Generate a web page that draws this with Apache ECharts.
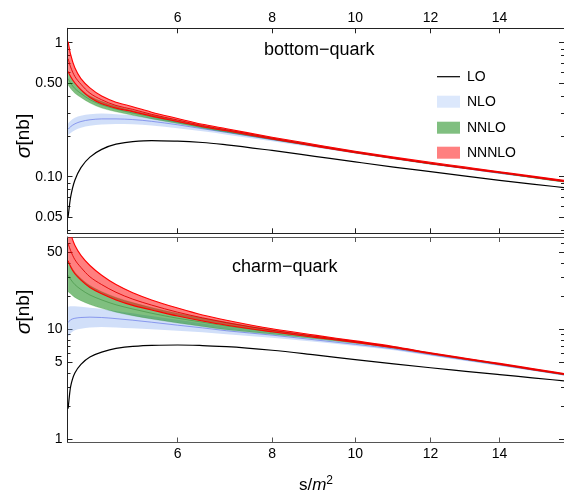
<!DOCTYPE html>
<html><head><meta charset="utf-8">
<script src="https://cdn.jsdelivr.net/npm/echarts@6/dist/echarts.min.js"></script>
<style>html,body{margin:0;padding:0;background:#fff}#c{width:564px;height:496px}</style>
</head><body><div id="c"></div>
<script>
// x grid (s/m^2)
const sValues = [4.04, 4.08, 4.15, 4.25, 4.4, 4.6, 4.85, 5.15, 5.5, 6, 6.5, 7, 8, 9, 10, 11, 12, 13, 14, 15, 16];
const xTicks = [6, 8, 10, 12, 14];
const topYMajor = [0.05, 0.1, 0.5, 1];
const topYMajorLabels = ['0.05', '0.10', '0.50', '1'];
const topYMinor = [0.04, 0.06, 0.07, 0.08, 0.09, 0.2, 0.3, 0.4, 0.6, 0.7, 0.8, 0.9];
const botYMajor = [1, 5, 10, 50];
const botYMajorLabels = ['1', '5', '10', '50'];
const botYMinor = [2, 3, 4, 6, 7, 8, 9, 20, 30, 40, 60];
const legendNames = ['LO', 'NLO', 'NNLO', 'NNNLO'];

// bottom-quark
const bLO      = [0.050, 0.070, 0.094, 0.117, 0.140, 0.160, 0.175, 0.183, 0.186, 0.184, 0.180, 0.173, 0.157, 0.142, 0.129, 0.118, 0.109, 0.101, 0.094, 0.088, 0.083];
const bNLOlo   = [0.205, 0.212, 0.222, 0.232, 0.240, 0.245, 0.247, 0.246, 0.241, 0.230, 0.218, 0.206, 0.184, 0.165, 0.149, 0.135, 0.123, 0.114, 0.105, 0.098, 0.091];
const bNLOhi   = [0.250, 0.262, 0.275, 0.285, 0.292, 0.296, 0.293, 0.287, 0.276, 0.257, 0.238, 0.222, 0.194, 0.172, 0.154, 0.139, 0.127, 0.117, 0.108, 0.100, 0.093];
const bNLOc    = [0.226, 0.236, 0.248, 0.258, 0.266, 0.270, 0.270, 0.267, 0.259, 0.244, 0.228, 0.214, 0.189, 0.169, 0.151, 0.137, 0.125, 0.115, 0.106, 0.099, 0.092];
const bNNLOlo  = [0.485, 0.455, 0.420, 0.390, 0.355, 0.325, 0.305, 0.287, 0.270, 0.249, 0.230, 0.215, 0.189, 0.168, 0.150, 0.136, 0.124, 0.115, 0.106, 0.098, 0.091];
const bNNLOhi  = [0.610, 0.560, 0.500, 0.450, 0.400, 0.365, 0.335, 0.312, 0.290, 0.263, 0.240, 0.224, 0.195, 0.173, 0.154, 0.139, 0.127, 0.117, 0.108, 0.100, 0.093];
const bNNLOc   = [0.540, 0.500, 0.455, 0.418, 0.376, 0.344, 0.320, 0.299, 0.280, 0.256, 0.235, 0.219, 0.192, 0.170, 0.152, 0.137, 0.125, 0.116, 0.107, 0.099, 0.092];
const bN3LOlo  = [0.610, 0.560, 0.500, 0.445, 0.390, 0.350, 0.325, 0.306, 0.283, 0.258, 0.236, 0.220, 0.191, 0.169, 0.151, 0.137, 0.125, 0.115, 0.107, 0.099, 0.092];
const bN3LOhi  = [1.020, 0.820, 0.650, 0.540, 0.460, 0.400, 0.360, 0.333, 0.303, 0.272, 0.246, 0.228, 0.197, 0.174, 0.155, 0.140, 0.128, 0.118, 0.109, 0.101, 0.094];
const bN3LOc   = [0.760, 0.660, 0.560, 0.490, 0.420, 0.375, 0.340, 0.318, 0.292, 0.265, 0.241, 0.224, 0.194, 0.171, 0.153, 0.138, 0.126, 0.116, 0.108, 0.100, 0.093];

// charm-quark
const cLO      = [1.9, 3.0, 4.0, 4.8, 5.6, 6.2, 6.7, 7.0, 7.15, 7.2, 7.12, 6.95, 6.45, 5.85, 5.3, 4.85, 4.47, 4.15, 3.88, 3.62, 3.4];
const cNLOlo   = [8.5, 9.2, 9.8, 10.1, 10.4, 10.5, 10.4, 10.2, 10.0, 9.7, 9.4, 9.0, 8.4, 7.7, 7.05, 6.45, 5.75, 5.15, 4.65, 4.19, 3.79];
const cNLOhi   = [16.0, 16.2, 16.2, 16.0, 15.7, 15.3, 14.7, 14.0, 13.2, 12.2, 11.3, 10.5, 9.3, 8.35, 7.55, 6.82, 6.02, 5.37, 4.84, 4.35, 3.92];
const cNLOc    = [11.5, 12.2, 12.6, 12.8, 12.9, 12.8, 12.5, 12.1, 11.6, 10.9, 10.3, 9.7, 8.85, 8.02, 7.3, 6.63, 5.88, 5.26, 4.74, 4.27, 3.85];
const cNNLOlo  = [22, 21, 19.5, 18.2, 16.8, 15.5, 14.3, 13.3, 12.4, 11.4, 10.6, 9.9, 9.0, 8.2, 7.45, 6.72, 5.95, 5.3, 4.76, 4.27, 3.85];
const cNNLOhi  = [42, 38, 33, 29, 25, 22, 19.5, 17.5, 15.8, 14.0, 12.7, 11.6, 9.9, 8.7, 7.8, 6.95, 6.1, 5.43, 4.88, 4.38, 3.95];
const cNNLOc   = [31, 28.5, 25.5, 23, 20.5, 18.5, 16.7, 15.3, 14.0, 12.6, 11.6, 10.7, 9.45, 8.45, 7.62, 6.83, 6.02, 5.36, 4.82, 4.32, 3.9];
const cN3LOlo  = [42, 37, 32, 28, 24, 21, 18.5, 16.5, 15.0, 13.2, 11.9, 10.9, 9.5, 8.45, 7.6, 6.8, 6.0, 5.35, 4.8, 4.3, 3.88];
const cN3LOhi  = [95, 75, 58, 47, 38, 31, 25.5, 21.5, 18.5, 15.6, 13.5, 12.1, 10.1, 8.85, 7.85, 6.98, 6.12, 5.45, 4.9, 4.4, 3.96];
const cN3LOc   = [60, 52, 43, 36.5, 30, 25.5, 21.7, 18.8, 16.6, 14.3, 12.7, 11.5, 9.8, 8.65, 7.72, 6.9, 6.06, 5.4, 4.85, 4.35, 3.92];

const FONT = "'Liberation Sans', Arial, sans-serif";
const X = s => Math.sqrt(s);
const Y = v => Math.log10(v);
const xMin = 2.0076, xMax = 4.0;
const ranges = [[-1.4224, 0.1075], [-0.029, 1.839]];
const grids = [
  {left: 67.5, top: 28.3, width: 499.5, height: 205},
  {left: 67.5, top: 237, width: 499.5, height: 205.5}
];

function fmtX(v) { const s = v * v; let best = xTicks[0]; xTicks.forEach(t => { if (Math.abs(t - s) < Math.abs(best - s)) best = t; }); return String(best); }
function fmtY(g) {
  const maj = g === 0 ? topYMajor : botYMajor, lab = g === 0 ? topYMajorLabels : botYMajorLabels;
  return v => { let bi = 0; maj.forEach((m, i) => { if (Math.abs(Y(m) - v) < Math.abs(Y(maj[bi]) - v)) bi = i; }); return lab[bi]; };
}

const xAxis = [], yAxis = [];
[0, 1].forEach(g => {
  const lineCol = g === 0 ? '#222' : '#555';
  ['bottom', 'top'].forEach(pos => {
    const showLab = (g === 0 && pos === 'top') || (g === 1 && pos === 'bottom');
    xAxis.push({
      type: 'value', gridIndex: g, position: pos, min: xMin, max: xMax,
      axisLine: {show: true, onZero: false, lineStyle: {color: lineCol, width: 1}},
      axisTick: {show: true, inside: true, length: 5, customValues: xTicks.map(X), lineStyle: {color: lineCol}},
      axisLabel: {show: showLab, customValues: xTicks.map(X), formatter: fmtX, color: '#000', fontSize: 14, fontFamily: FONT, margin: pos === 'top' ? 3 : 5},
      splitLine: {show: false}
    });
  });
  const maj = (g === 0 ? topYMajor : botYMajor).map(Y);
  const mnr = (g === 0 ? topYMinor : botYMinor).map(Y);
  ['left', 'right'].forEach(pos => {
    yAxis.push({
      type: 'value', gridIndex: g, position: pos, min: ranges[g][0], max: ranges[g][1],
      axisLine: {show: true, onZero: false, lineStyle: {color: pos === 'left' ? '#222' : lineCol, width: 1}},
      axisTick: {show: true, inside: true, length: 5, customValues: maj, lineStyle: {color: '#222'}},
      axisLabel: {show: pos === 'left', customValues: maj, formatter: fmtY(g), color: '#000', fontSize: 14, fontFamily: FONT, margin: 5},
      splitLine: {show: false}
    });
    yAxis.push({
      type: 'value', gridIndex: g, position: pos, min: ranges[g][0], max: ranges[g][1],
      axisLine: {show: false},
      axisTick: {show: true, inside: true, length: 3, customValues: mnr, lineStyle: {color: '#222'}},
      axisLabel: {show: false},
      splitLine: {show: false}
    });
  });
});

// monotone cubic path through pixel points
function monoPath(p, cmd) {
  const n = p.length, d = [], m = [];
  for (let i = 0; i < n - 1; i++) d[i] = (p[i + 1][1] - p[i][1]) / (p[i + 1][0] - p[i][0]);
  m[0] = d[0]; m[n - 1] = d[n - 2];
  for (let i = 1; i < n - 1; i++) {
    if (d[i - 1] * d[i] <= 0) { m[i] = 0; continue; }
    const h0 = p[i][0] - p[i - 1][0], h1 = p[i + 1][0] - p[i][0];
    const w1 = 2 * h1 + h0, w2 = h1 + 2 * h0;
    m[i] = (w1 + w2) / (w1 / d[i - 1] + w2 / d[i]);
  }
  let s = cmd + p[0][0].toFixed(2) + ',' + p[0][1].toFixed(2);
  for (let i = 0; i < n - 1; i++) {
    const h = p[i + 1][0] - p[i][0];
    s += ' C' + (p[i][0] + h / 3).toFixed(2) + ',' + (p[i][1] + m[i] * h / 3).toFixed(2) + ' ' +
      (p[i + 1][0] - h / 3).toFixed(2) + ',' + (p[i + 1][1] - m[i + 1] * h / 3).toFixed(2) + ' ' +
      p[i + 1][0].toFixed(2) + ',' + p[i + 1][1].toFixed(2);
  }
  return s;
}

const series = [];
// band: data rows [x, yLow, yHigh, yMid]
function addBand(g, name, lo, hi, mid, style) {
  series.push({
    type: 'custom', name: name, xAxisIndex: g * 2, yAxisIndex: g * 4, silent: true, animation: false, clip: true,
    data: sValues.map((s, i) => [X(s), Y(lo[i]), Y(hi[i]), mid ? Y(mid[i]) : Y(lo[i])]),
    encode: {x: 0, y: [1, 2]},
    renderItem: function (params, api) {
      if (params.dataIndex !== 0) return null;
      const n = sValues.length;
      const pl = [], ph = [], pm = [];
      for (let i = 0; i < n; i++) {
        const x = api.value(0, i);
        pl.push(api.coord([x, api.value(1, i)]));
        ph.push(api.coord([x, api.value(2, i)]));
        pm.push(api.coord([x, api.value(3, i)]));
      }
      const cs = params.coordSys;
      const children = [];
      if (style.fill) {
        const rev = pl.slice().reverse();
        children.push({type: 'path', shape: {pathData: monoPath(ph, 'M') + ' ' + monoPath(rev, 'L') + ' Z'}, style: {fill: style.fill, stroke: null}});
      }
      if (style.edge) {
        children.push({type: 'path', shape: {pathData: monoPath(pl, 'M')}, style: {fill: null, stroke: style.edge, lineWidth: style.edgeW}});
        children.push({type: 'path', shape: {pathData: monoPath(ph, 'M')}, style: {fill: null, stroke: style.edge, lineWidth: style.edgeW}});
      }
      if (style.mid) {
        children.push({type: 'path', shape: {pathData: monoPath(pm, 'M')}, style: {fill: null, stroke: style.mid, lineWidth: style.midW}});
      }
      return {type: 'group', children: children, clipPath: {type: 'rect', shape: {x: cs.x, y: cs.y, width: cs.width, height: cs.height}}};
    }
  });
}
const sets = [
  [bLO, bNLOlo, bNLOhi, bNLOc, bNNLOlo, bNNLOhi, bNNLOc, bN3LOlo, bN3LOhi, bN3LOc],
  [cLO, cNLOlo, cNLOhi, cNLOc, cNNLOlo, cNNLOhi, cNNLOc, cN3LOlo, cN3LOhi, cN3LOc]
];
sets.forEach((d, g) => {
  addBand(g, 'NLO', d[1], d[2], d[3], {fill: 'rgba(140,175,240,0.4)', mid: '#7585ea', midW: 0.8});
  addBand(g, 'NNLO', d[4], d[5], d[6], {fill: 'rgba(0,128,0,0.5)', edge: 'rgba(0,128,0,0.3)', edgeW: 0.6, mid: 'rgba(0,100,0,0.45)', midW: 0.7});
  addBand(g, 'NNNLO', d[7], d[8], d[9], {fill: 'rgba(255,0,0,0.5)', edge: '#ff0000', edgeW: 1.1, mid: '#e00000', midW: 0.9});
  addBand(g, 'LO', d[0], d[0], null, {mid: '#000', midW: 1.2});
});

// legend (drawn as graphic items)
const legendY = [76.7, 101.7, 127.7, 152.7];
const legendFill = [null, '#dce8fc', '#80bf80', '#ff8080'];
const legendGraphics = [];
legendNames.forEach((nm, i) => {
  if (legendFill[i]) legendGraphics.push({type: 'rect', left: 437, top: legendY[i] - 6, shape: {width: 23, height: 12}, style: {fill: legendFill[i]}});
  else legendGraphics.push({type: 'line', shape: {x1: 437, y1: legendY[i], x2: 460, y2: legendY[i]}, style: {stroke: '#000', lineWidth: 1.2}});
  legendGraphics.push({type: 'text', x: 467, y: legendY[i], style: {text: nm, font: '14px ' + FONT, fill: '#000', verticalAlign: 'middle'}});
});

const chart = echarts.init(document.getElementById('c'), null, {renderer: 'canvas'});
chart.setOption({
  animation: false,
  backgroundColor: '#fff',
  grid: grids,
  xAxis, yAxis, series,
  graphic: legendGraphics.concat([
    {type: 'text', left: 264, top: 41, style: {text: 'bottom\u2212quark', font: '18px ' + FONT, fill: '#000'}},
    {type: 'text', left: 232, top: 258, style: {text: 'charm\u2212quark', font: '18px ' + FONT, fill: '#000'}},
    {type: 'text', x: 24, y: 136, rotation: Math.PI / 2, style: {text: '{i|\u03c3}[nb]', align: 'center', verticalAlign: 'middle', font: '19px ' + FONT, fill: '#000', rich: {i: {fontStyle: 'italic', fontSize: 21, fontFamily: FONT}}}},
    {type: 'text', x: 24, y: 312, rotation: Math.PI / 2, style: {text: '{i|\u03c3}[nb]', align: 'center', verticalAlign: 'middle', font: '19px ' + FONT, fill: '#000', rich: {i: {fontStyle: 'italic', fontSize: 21, fontFamily: FONT}}}},
    {type: 'text', x: 316, y: 485, style: {text: 's/{i|m}{sup|2}', align: 'center', verticalAlign: 'middle', font: '17px ' + FONT, fill: '#000', rich: {i: {fontStyle: 'italic', fontSize: 17, fontFamily: FONT}, sup: {fontSize: 12, fontFamily: FONT, verticalAlign: 'top', padding: [0, 0, 8, 0]}}}}
  ])
});
</script></body></html>
